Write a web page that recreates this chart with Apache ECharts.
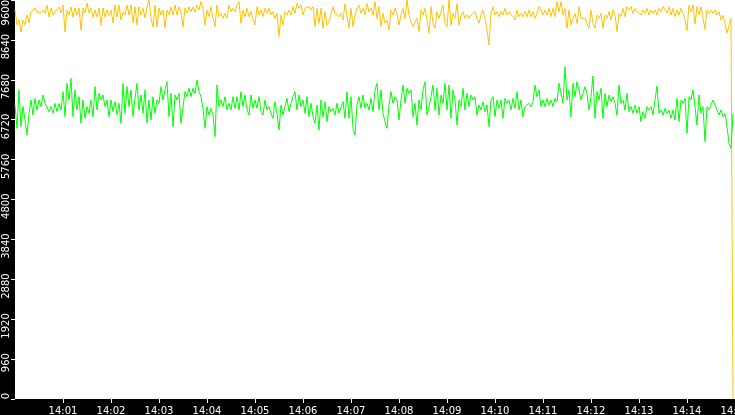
<!DOCTYPE html>
<html><head><meta charset="utf-8">
<script src="https://cdn.jsdelivr.net/npm/echarts@6/dist/echarts.min.js"></script>
<style>html,body{margin:0;padding:0;background:#000}#c{width:735px;height:415px}</style>
</head><body><div id="c"></div>
<script>
// sampling: one reading every 2.5 s starting at 14:00:00
const startHour = 14;
const sampleSeconds = 2.5;
const xTickSeconds = [60,120,180,240,300,360,420,480,540,600,660,720,780,840,900];
const yTicks = [0,960,1920,2880,3840,4800,5760,6720,7680,8640];
const yTopTick = [9600];

const yellowValues = [
9359,9000,9119,8830,9119,9000,9239,9047,9311,9287,9408,9311,9359,9287,9359,9287,9480,9191,9408,9239,
9311,9359,9432,9287,9480,8830,9359,9239,9432,9191,9408,9239,9408,8878,9408,9287,9528,9287,9408,9191,
9359,9191,9408,9000,9408,9191,9359,9239,9359,9047,9480,9191,9480,9119,9311,9239,9480,9239,9480,9047,
9432,9000,9432,9239,9408,9167,9432,9600,9167,8950,9480,8950,9408,9239,9359,8926,9359,9239,9432,9239,
9480,9239,9432,9311,8950,9408,9287,9432,9311,9432,9311,9480,9359,
9560,9400,8999,9359,9199,9440,9159,8958,9480,9199,9279,9159,9279,9159,9480,9319,9400,9319,9480,9560,
9039,9359,9199,9400,9199,9319,9119,8999,9440,9239,9359,9199,9400,9279,9400,9239,9319,9159,9279,8718,
9239,8999,9319,9239,9359,9239,9440,9279,9520,9400,9480,9239,9400,9359,9440,9359,9440,8958,9400,9039,
9400,8918,9319,8999,9079,9039,9440,9279,9319,9199,9279,9119,9504,9199,8918,9400,8958,9239,9400,9480,
9279,9400,9239,9520,9319,9400,9239,9560,9159,9440,8958,9279,9039,9119,8878,9359,9239,9400,9279,8999,
9239,9400,9159,9600,9239,9079,8958,8918,9159,8838,9359,9239,9400,9119,8798,9440,9039,8918,9319,9159,
9159,9480,9039,8958,9600,8999,9279,9159,9520,8999,9199,9319,9159,9239,9159,9239,9199,9319,9159,9039,
9239,9359,9159,8878,8517,9279,9440,9239,9319,9199,9319,9239,9400,9239,9319,9279,9199,9119,9359,9199,
9279,9199,9319,9199,9359,9199,9319,9159,9279,9440,9359,9239,9359,9239,9400,9199,9400,9199,9560,9319,
9560,9239,9400,8918,9359,8999,8958,9279,9039,9440,9159,9119,9159,9119,8918,9359,9039,8918,9239,9159,
9279,8918,9239,9159,9319,9119,9359,9239,8838,9279,9199,9400,9199,9440,9359,9440,9279,9400,9319,9359,
9239,9359,9279,9400,9239,9359,9279,9359,9239,9400,9319,9440,9480,9279,9440,9239,9400,9199,9359,9239,
9400,9279,9119,8862,9480,9319,9480,9023,9440,9239,9440,9159,8894,9359,9279,9359,9279,9359,9239,9319,
9119,9239,9039,8798,8758,9159,0
];

const greenValues = [
7074,6512,7435,6552,7034,6713,6352,6873,7194,6833,7234,6953,7194,7034,7314,7114,7114,6913,7034,6873,
7114,6913,7114,6953,7395,6793,7595,7194,7715,6793,7435,6953,7274,6633,7194,6753,7034,6873,7194,6793,
7515,6953,7354,7194,7314,7034,7194,6793,7194,6913,7154,6833,7114,6633,7595,6873,7515,7034,7435,6793,
7234,7595,6953,7314,6873,7435,6633,7194,6713,7274,6873,7194,7114,7515,7194,7435,7635,6793,7354,6552,
7314,7194,7354,6633,6592,7395,7274,7475,7274,7475,7354,7675,7395,
7274,6993,6512,7034,6833,6993,6833,6312,7555,7034,7194,7034,7274,6953,7114,6953,7274,6993,7274,6953,
7395,7034,7314,6953,6833,7314,6993,7194,6993,7274,6913,6833,7194,6953,7034,6873,6753,7154,6873,6472,
7074,6833,7034,7234,6913,7114,7274,7395,6953,7314,7034,7194,6873,7274,6793,7114,6793,6633,7074,6472,
7194,6793,7154,6673,7034,6913,6993,6833,7114,6873,6833,7154,6753,7395,6753,7274,6512,6352,7074,7274,
6993,7314,6993,7114,6953,7234,6913,7435,7595,6953,7435,6873,6673,6512,7074,7395,7114,7274,7194,6713,
7194,7555,7114,7475,7354,7435,6793,7114,6592,7194,6953,7435,7635,6833,7034,7274,7555,6953,7475,6833,
7314,7114,7595,6953,7555,6753,7435,7194,6592,7194,7034,7475,6953,7354,7034,7314,7194,7274,6833,7074,
6953,7154,6913,7074,6552,7194,7274,6793,7194,6993,7194,6753,7234,7114,7194,6953,7234,6993,7395,6953,
7194,6793,7034,6993,7114,7034,7154,7555,7274,7435,7034,7194,7034,7234,7074,7194,7034,7234,7154,7595,
7595,7114,7996,7194,7435,6793,7595,7274,7635,7435,7194,7354,7515,7354,6953,7274,7771,6753,7395,7194,
7475,6753,7354,7034,7314,7154,7274,7114,6833,7555,7114,7194,6953,7354,6913,7034,6873,7074,6873,7034,
6673,6913,6753,7034,6953,7034,6833,7194,7531,6873,6953,6833,6993,6873,6953,6753,6953,6713,7234,6673,
7194,7114,7234,6392,7274,7194,7435,7034,6592,7314,6873,7034,6192,7034,6953,7074,7194,7074,7114,6833,
6953,6793,6873,6552,6152,6031,6873
];

function toPairs(vals) { return vals.map((v, i) => [i * sampleSeconds, v]); }
function clockLabel(s) {
  const m = Math.round(s / 60);
  return (startHour + Math.floor(m / 60)) + ':' + String(m % 60).padStart(2, '0');
}
function plainNumber(v) { return String(v); }
const labelFont = { color: '#fff', fontSize: 10, fontFamily: 'DejaVu Sans' };

const chart = echarts.init(document.getElementById('c'), null, { renderer: 'canvas' });
chart.setOption({
  animation: false,
  backgroundColor: '#000',
  grid: { left: 15, right: 0, top: 0, bottom: 16, show: true, backgroundColor: '#fff', borderWidth: 0, containLabel: false, outerBoundsMode: 'none' },
  xAxis: {
    type: 'value', min: 0, max: 900, interval: 60,
    splitLine: { show: false }, axisLine: { show: false },
    axisTick: { show: true, length: 4, lineStyle: { color: '#fff', width: 1 }, customValues: xTickSeconds },
    axisLabel: Object.assign({ customValues: xTickSeconds, margin: 7, formatter: clockLabel, showMaxLabel: true, hideOverlap: false }, labelFont)
  },
  yAxis: [
    {
      type: 'value', min: 0, max: 9600, interval: 960,
      splitLine: { show: false }, axisLine: { show: false },
      axisTick: { show: true, length: 4, lineStyle: { color: '#fff', width: 1 } },
      axisLabel: Object.assign({ customValues: yTicks, formatter: plainNumber, rotate: 90, align: 'right', padding: [0, -6, 0, 0], margin: 4 }, labelFont)
    },
    {
      type: 'value', min: 0, max: 9600, position: 'left',
      splitLine: { show: false }, axisLine: { show: false }, axisTick: { show: false },
      axisLabel: Object.assign({ customValues: yTopTick, formatter: plainNumber, rotate: 90, align: 'right', margin: 4 }, labelFont)
    }
  ],
  series: [
    { name: 'Series A', type: 'line', data: toPairs(yellowValues), showSymbol: false, symbol: 'none',
      lineStyle: { width: 1, color: '#ffc200' }, itemStyle: { color: '#ffc200' } },
    { name: 'Series B', type: 'line', data: toPairs(greenValues), showSymbol: false, symbol: 'none',
      lineStyle: { width: 1, color: '#00ff00' }, itemStyle: { color: '#00ff00' } }
  ]
});
</script>
</body></html>
